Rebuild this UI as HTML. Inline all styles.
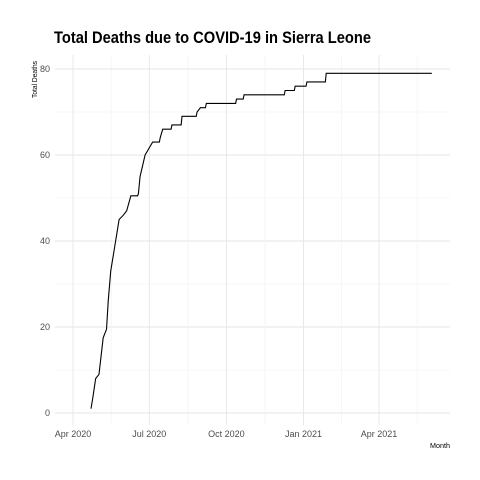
<!DOCTYPE html>
<html><head><meta charset="utf-8"><style>body{margin:0;background:#fff}svg{display:block}</style></head>
<body>
<svg id="chart" width="480" height="480" xmlns="http://www.w3.org/2000/svg" font-family="Liberation Sans, sans-serif">
<rect width="480" height="480" fill="#fff"/>
<g id="grid"></g>
<g id="axes"></g>
<path id="line" fill="none" stroke="#000" stroke-width="1.1"/>
<text x="54" y="43" font-size="17" font-weight="bold" textLength="317" lengthAdjust="spacingAndGlyphs">Total Deaths due to COVID-19 in Sierra Leone</text>
<text transform="translate(37,98) rotate(-90)" font-size="7.5" textLength="37" lengthAdjust="spacingAndGlyphs">Total Deaths</text>
<text x="430" y="448" font-size="7.5" textLength="20" lengthAdjust="spacingAndGlyphs">Month</text>
</svg>
<script>
const days=[21.5,24,27,31,36,40,42,45,50,55,60,64,69,78,80,86,92,95,104,107,118,130,148,152,159,195,204,253,265,279,302,428];
const values=[1,4,8,9,17.5,19.5,26,33,39,45,46,47,50.5,51,55,60,62,63,64,66,67,69,70,71,72,73,74,75,76,77,79,79];
const yTicks=[0,20,40,60,80];
const xTickDays=[0,91,183,275,365];
const xTickLabels=["Apr 2020","Jul 2020","Oct 2020","Jan 2021","Apr 2021"];
const X=d=>73+d*0.8384, Y=v=>413-v*4.3;
const L=55,R=450,T=55,B=425;
const svg=document.getElementById('chart'),grid=document.getElementById('grid'),axes=document.getElementById('axes');
const ns='http://www.w3.org/2000/svg';
function ln(x1,y1,x2,y2,c,w){const l=document.createElementNS(ns,'line');l.setAttribute('x1',x1);l.setAttribute('y1',y1);l.setAttribute('x2',x2);l.setAttribute('y2',y2);l.setAttribute('stroke',c);l.setAttribute('stroke-width',w);grid.appendChild(l);return l;}
for(let i=0;i<yTicks.length;i++){const v=yTicks[i];
 const g=ln(L,Y(v),R,Y(v),'#e6e6e6',0.9);
 
 
 if(i<yTicks.length-1){const m=ln(L,Y(v+10),R,Y(v+10),'#f0f0f0',0.6);
  
  }
 const t=document.createElementNS(ns,'text');t.setAttribute('x',50);t.setAttribute('y',Y(v)+3);t.setAttribute('text-anchor','end');t.setAttribute('font-size','9');t.setAttribute('fill','#4d4d4d');t.textContent=v;
 
 
 axes.appendChild(t);}
for(let i=0;i<xTickDays.length;i++){const d=xTickDays[i];
 const g=ln(X(d),T,X(d),B,'#e6e6e6',0.9);
 
 
 const md=i<xTickDays.length-1?(d+xTickDays[i+1])/2:d+45.5;
 if(X(md)<R){const m=ln(X(md),T,X(md),B,'#f0f0f0',0.6);
  
  }
 const t=document.createElementNS(ns,'text');t.setAttribute('x',X(d));t.setAttribute('y',437);t.setAttribute('text-anchor','middle');t.setAttribute('font-size','9');t.setAttribute('fill','#4d4d4d');t.textContent=xTickLabels[i];
 
 
 axes.appendChild(t);}
let p='M'+X(days[0])+','+Y(values[0]);
for(let i=1;i<days.length;i++){
 if(days[i]-days[i-1]<=6){p+=' L'+X(days[i])+','+Y(values[i]);}
 else{const prev=days[i]-1;p+=' L'+X(prev)+','+Y(values[i-1])+' L'+X(days[i])+','+Y(values[i]);}
}
document.getElementById('line').setAttribute('d',p);
</script>
</body></html>
